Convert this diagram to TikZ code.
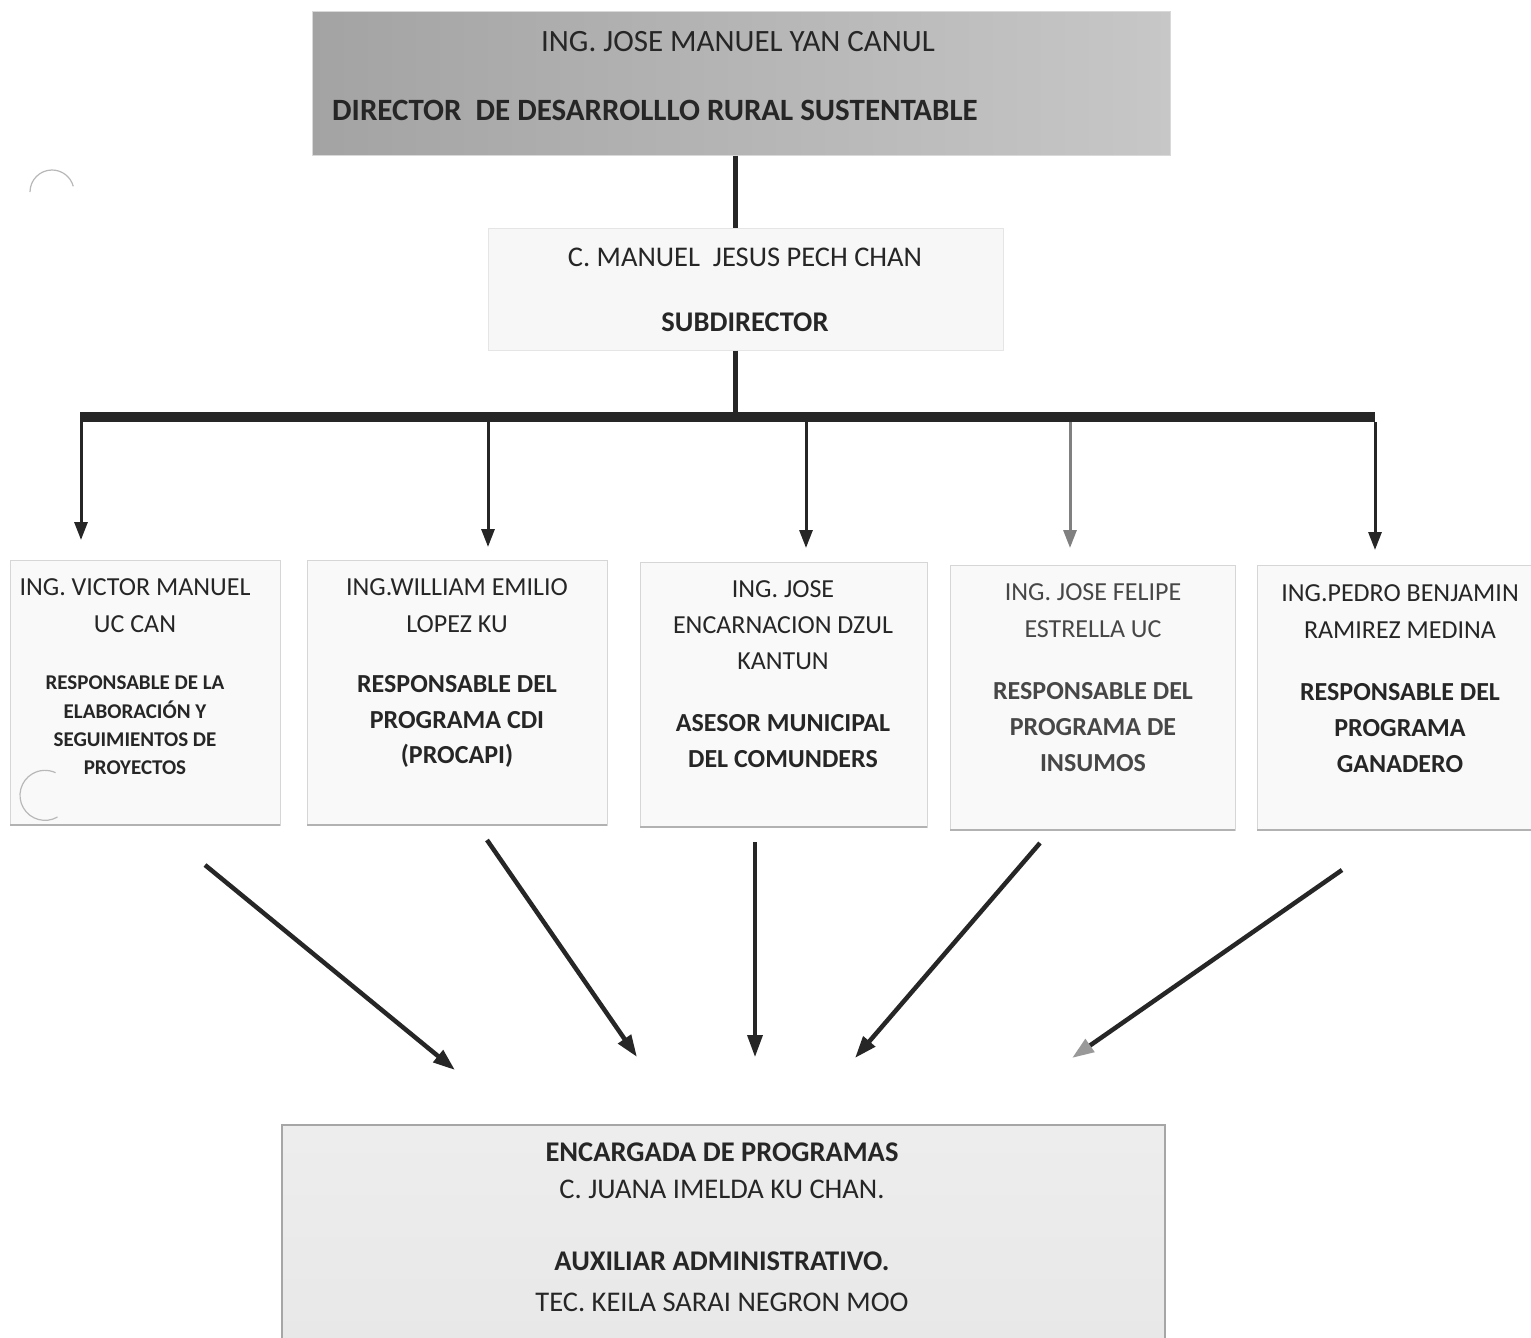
\documentclass[tikz,border=0pt]{standalone}
\usepackage{fontspec}
\setmainfont{Carlito}
\usetikzlibrary{arrows.meta}
\definecolor{ink}{HTML}{262626}
\definecolor{boxline}{HTML}{D6D6D6}
\definecolor{boxfill}{HTML}{F9F9F9}
\tikzset{
  cardbox/.style={rectangle, draw=boxline, line width=1pt, fill=boxfill, inner sep=0pt, outer sep=0pt},
  txt/.style={text=ink, align=center, inner sep=0pt},
  stem/.style={draw=ink, line width=5pt},
  downarr/.style={draw=ink, line width=3pt, -{Triangle[length=18pt,width=13pt]}},
  diagarr/.style={draw=ink, line width=4.5pt, -{Triangle[length=22pt,width=15pt]}},
  edge line/.style={draw=black!30, line width=1.5pt},
  punch/.style={draw=black!28, line width=1.2pt},
}
\begin{document}
\begin{tikzpicture}[x=1pt,y=-1pt]
\useasboundingbox[fill=white] (0,0) rectangle (1531,1338);

% Director
\node[rectangle, draw=black!15, line width=1pt, left color=black!36, right color=black!22,
      minimum width=858pt, minimum height=143pt, inner sep=0pt] (dir) at (741,83.5) {};
\node[txt, font=\fontsize{31}{37}\selectfont] (dirname) at (738,42) {ING. JOSE MANUEL YAN CANUL};
\node[txt, anchor=west, font=\fontsize{31}{37}\selectfont\bfseries] (dirrole) at (332,110) {DIRECTOR\ \ DE DESARROLLLO RURAL SUSTENTABLE};

% Subdirector
\node[rectangle, draw=black!10, line width=1pt, fill=black!3, minimum width=515pt, minimum height=122pt, inner sep=0pt] (sub) at (745.5,289) {};
\node[txt, font=\fontsize{28.5}{34}\selectfont] (subname) at (745,257) {C. MANUEL\ \ JESUS PECH CHAN};
\node[txt, font=\fontsize{28.5}{34}\selectfont\bfseries] (subrole) at (745,322) {SUBDIRECTOR};

\coordinate (xstem) at (735,0);
\draw[stem] (dir.south -| xstem) -- (sub.north -| xstem);

% bar
\node[rectangle, fill=ink, minimum width=1295pt, minimum height=10pt, inner sep=0pt] (bar) at (727.5,417) {};
\draw[stem] (sub.south -| xstem) -- (bar.north -| xstem);

% five boxes
\node[cardbox, minimum width=270pt, minimum height=265pt] (b1) at (145,692.5) {};
\node[cardbox, minimum width=300pt, minimum height=265pt] (b2) at (457,692.5) {};
\node[cardbox, minimum width=287pt, minimum height=265pt] (b3) at (783.5,694.5) {};
\node[cardbox, minimum width=285pt, minimum height=265pt] (b4) at (1092.5,697.5) {};
\node[cardbox, minimum width=276pt, minimum height=265pt] (b5) at (1395,697.5) {};
\foreach \b in {b1,b2,b3,b4,b5}{\draw[edge line] (\b.south west) -- (\b.south east);}

% hole punch marks (scan)
\draw[punch] (30,192) arc[start angle=180, end angle=345, radius=22];
\draw[punch] (57.5,817) arc[start angle=60, end angle=295, radius=25];

\node[txt, font=\fontsize{26}{37}\selectfont] (n1) at (135,605.5) {ING. VICTOR MANUEL\\UC CAN};
\node[txt, font=\fontsize{21}{28.3}\selectfont\bfseries] (r1) at (135,725.5) {RESPONSABLE DE LA\\ELABORACIÓN Y\\SEGUIMIENTOS DE\\PROYECTOS};

\node[txt, font=\fontsize{26}{37}\selectfont] (n2) at (457,605.5) {ING.WILLIAM EMILIO\\LOPEZ KU};
\node[txt, font=\fontsize{26}{35.5}\selectfont\bfseries] (r2) at (457,721.5) {RESPONSABLE DEL\\PROGRAMA CDI\\(PROCAPI)};

\node[txt, font=\fontsize{26}{36}\selectfont] (n3) at (783,625) {ING. JOSE\\ENCARNACION DZUL\\KANTUN};
\node[txt, font=\fontsize{26}{36}\selectfont\bfseries] (r3) at (783,741) {ASESOR MUNICIPAL\\DEL COMUNDERS};

\node[txt, text=black!72, font=\fontsize{26}{37}\selectfont] (n4) at (1093,610.5) {ING. JOSE FELIPE\\ESTRELLA UC};
\node[txt, text=black!72, font=\fontsize{26}{36}\selectfont\bfseries] (r4) at (1093,727) {RESPONSABLE DEL\\PROGRAMA DE\\INSUMOS};

\node[txt, font=\fontsize{26}{37}\selectfont] (n5) at (1400,611.5) {ING.PEDRO BENJAMIN\\RAMIREZ MEDINA};
\node[txt, font=\fontsize{26}{36}\selectfont\bfseries] (r5) at (1400,728) {RESPONSABLE DEL\\PROGRAMA\\GANADERO};

% down arrows from bar
\coordinate (a1) at (81,540);
\coordinate (a2) at (488,547);
\coordinate (a3) at (806,548);
\coordinate (a4) at (1070,548);
\coordinate (a5) at (1375,550);
\draw[downarr] (bar.south -| a1) -- (a1);
\draw[downarr] (bar.south -| a2) -- (a2);
\draw[downarr] (bar.south -| a3) -- (a3);
\draw[downarr, draw=black!50] (bar.south -| a4) -- (a4);
\draw[downarr] (bar.south -| a5) -- (a5);

% bottom box
\node[rectangle, draw=black!35, line width=1.2pt, top color=black!7, bottom color=black!9,
      minimum width=883pt, minimum height=215pt, inner sep=0pt] (bot) at (723.5,1232.5) {};
\node[txt, font=\fontsize{28.5}{37}\selectfont] (bA) at (722,1170.5) {\textbf{ENCARGADA DE PROGRAMAS}\\C. JUANA IMELDA KU CHAN.};
\node[txt, font=\fontsize{28.5}{41}\selectfont] (bB) at (722,1281.5) {\textbf{AUXILIAR ADMINISTRATIVO.}\\TEC. KEILA SARAI NEGRON MOO};

% diagonal arrows
\coordinate (s1) at (205,865);   \coordinate (e1) at (455,1070);
\coordinate (s2) at (487,840);   \coordinate (e2) at (637,1057);
\coordinate (s3) at (755,842);   \coordinate (e3) at (755,1057);
\coordinate (s4) at (1040,843);  \coordinate (e4) at (855,1058);
\coordinate (s5) at (1342,870);  \coordinate (e5) at (1072,1058);
\draw[diagarr] (s1) -- (e1);
\draw[diagarr] (s2) -- (e2);
\draw[diagarr, line width=3.5pt] (s3) -- (e3);
\draw[diagarr] (s4) -- (e4);
\draw[draw=ink, line width=4.5pt, -{Triangle[length=22pt,width=15pt,color=black!40]}] (s5) -- (e5);
\end{tikzpicture}
\end{document}
